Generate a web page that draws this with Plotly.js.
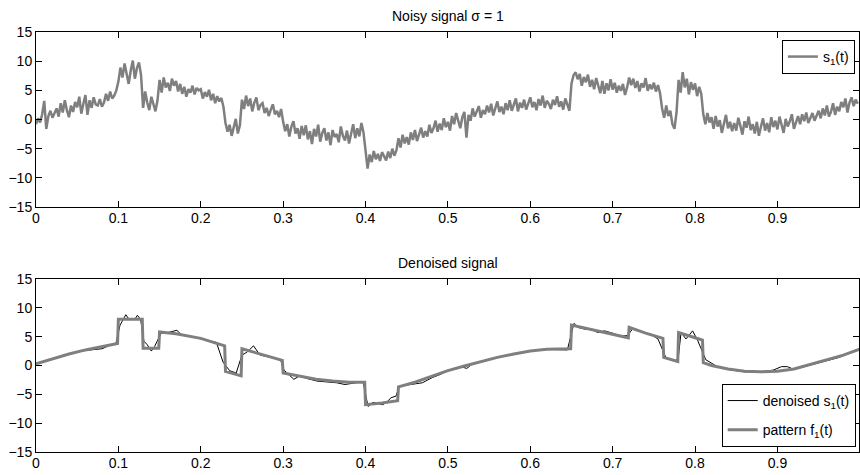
<!DOCTYPE html>
<html>
<head>
<meta charset="utf-8">
<script src="https://cdn.plot.ly/plotly-3.0.1.min.js"></script>
<style>html,body{margin:0;padding:0;background:#fff;}#chart{width:860px;height:475px;}</style>
</head>
<body>
<div id="chart"></div>
<script>
const noisyStep = 0.0025;
const noisyValues = [
-0.8,0.2,-0.5,0.9,3.2,-1.6,0.6,1.5,0.3,1.2,
1.9,0.5,2.8,1.2,3.3,1.6,0.4,2.4,1.3,3.0,
2.1,3.9,1.0,2.7,4.2,0.8,3.3,2.0,3.8,2.6,
2.4,3.5,2.2,2.9,4.4,3.2,4.8,3.6,4.1,5.0,
6.5,8.9,7.2,9.6,7.9,6.1,8.4,10.1,7.0,8.8,
9.8,7.6,2.0,4.8,2.9,1.6,3.9,2.4,1.4,3.3,
6.8,4.6,7.2,5.5,6.3,4.9,7.0,5.8,6.6,4.8,
6.1,4.4,5.6,3.9,5.2,4.6,5.8,4.3,5.4,5.0,
5.2,3.6,4.7,3.9,5.1,3.3,4.4,2.8,4.0,3.1,
3.7,2.2,-0.6,-2.1,-0.9,-2.8,-1.3,0.1,-2.4,-1.0,
3.4,1.8,4.1,2.3,3.6,1.4,2.9,3.8,1.6,2.5,
2.8,1.1,2.0,0.6,1.7,2.6,0.9,1.5,0.4,1.8,
-0.4,-2.0,-0.8,-2.9,-1.2,-0.3,-2.4,-1.5,-3.3,-1.1,
-2.7,-1.0,-3.4,-2.0,-4.2,-1.6,-2.9,-0.9,-3.8,-2.3,
-1.5,-3.6,-2.2,-4.4,-1.8,-3.0,-2.5,-3.9,-1.2,-2.8,
-3.6,-1.9,-4.1,-2.4,-0.8,-3.2,-1.5,-2.9,-0.6,-2.2,
-5.2,-8.4,-6.0,-7.3,-5.4,-6.8,-5.9,-7.1,-5.6,-6.4,
-7.0,-5.5,-6.6,-5.0,-6.2,-5.3,-3.2,-4.8,-2.6,-4.1,
-3.0,-4.3,-2.2,-3.5,-1.8,-3.7,-2.6,-1.4,-3.1,-2.0,
-2.9,-0.9,-2.3,-1.5,-0.2,-2.1,-0.7,-1.8,0.2,-1.3,
-0.4,-1.9,0.6,-0.8,1.1,-0.3,-1.5,0.4,1.3,-3.1,
0.8,-0.2,1.9,0.5,1.4,2.3,0.3,1.6,0.9,2.4,
1.2,2.7,0.7,1.9,3.1,1.3,2.2,0.9,2.8,1.6,
3.3,1.5,2.5,3.6,1.4,2.9,2.0,3.4,1.7,2.6,
3.8,2.1,3.0,1.6,3.5,2.4,4.1,2.0,3.2,2.7,
1.8,3.4,2.5,4.0,2.2,3.1,1.7,3.6,2.4,1.5,
6.2,7.6,8.1,6.9,7.8,5.8,7.3,6.4,7.7,5.6,
6.8,5.2,7.1,5.9,4.5,6.6,4.4,6.2,5.0,6.9,
5.1,6.3,4.6,5.8,4.9,6.1,4.2,5.5,7.2,5.9,
7.0,5.4,6.6,4.8,6.2,5.5,7.1,4.9,6.0,5.2,
6.3,4.8,5.9,4.5,1.9,0.3,2.4,0.6,1.5,-0.8,
-1.6,1.2,6.8,4.6,8.1,5.5,7.0,4.3,6.4,5.1,
6.2,4.0,5.6,4.4,0.9,-0.8,1.1,-0.5,0.4,-1.6,
0.6,-1.2,-0.1,-2.3,-0.7,0.8,-1.5,-0.4,-2.0,-0.6,
-1.9,0.3,-1.1,-2.6,-0.3,-1.4,0.5,-1.8,-0.8,-2.4,
-0.4,-2.8,-1.2,0.2,-1.9,-0.6,-2.2,0.4,-1.3,-0.2,
-1.7,0.5,-0.9,-2.3,0.1,-1.2,-0.3,0.9,-1.6,-0.5,
0.6,-0.8,0.9,-0.3,1.2,-0.6,0.4,1.1,-0.2,0.8,
1.5,0.2,1.9,0.7,2.4,0.5,1.3,2.8,0.8,2.2,
1.4,3.0,2.1,3.6,1.2,2.9,3.8,2.3,3.4,2.7
];
const noisyT = noisyValues.map((_, i) => +(i * noisyStep).toFixed(4));

// Denoised signal (black)
const denT = [0,0.02,0.04,0.06,0.07,0.08,0.09,0.097,0.102,0.105,0.109,0.113,0.12,0.123,0.127,0.131,0.135,0.14,0.144,0.147,0.152,0.16,0.171,0.176,0.19,0.2,0.21,0.219,0.227,0.235,0.243,0.25,0.256,0.264,0.272,0.285,0.297,0.301,0.313,0.32,0.33,0.341,0.355,0.365,0.375,0.387,0.397,0.403,0.409,0.415,0.421,0.426,0.431,0.437,0.441,0.45,0.457,0.469,0.481,0.49,0.5,0.51,0.515,0.523,0.53,0.55,0.57,0.6,0.62,0.645,0.653,0.658,0.666,0.675,0.682,0.69,0.7,0.71,0.718,0.724,0.73,0.738,0.746,0.755,0.765,0.772,0.779,0.783,0.789,0.797,0.803,0.813,0.827,0.84,0.86,0.88,0.895,0.905,0.912,0.92,0.94,0.96,0.975,0.985,0.999];
const denY = [0.3,1.2,2.0,2.6,2.7,2.9,3.5,3.8,7.0,7.9,8.8,8.0,8.0,8.7,8.0,4.2,3.6,2.5,3.3,4.2,5.6,5.7,6.1,5.4,5.0,4.7,4.3,4.0,0.6,-0.9,-1.3,1.8,2.3,3.4,1.8,1.4,0.9,-0.8,-2.4,-1.8,-2.3,-2.7,-2.8,-3.0,-3.3,-3.0,-2.8,-7.1,-6.4,-6.6,-6.8,-6.3,-5.6,-5.3,-3.6,-3.4,-3.3,-3.0,-2.1,-1.6,-0.9,-0.6,-0.2,-0.5,0.3,1.1,1.7,2.5,2.8,2.7,7.3,6.6,6.3,6.2,5.7,6.0,5.6,5.1,5.2,6.3,6.1,5.7,5.4,4.6,1.2,0.9,0.6,5.7,4.6,6.0,4.4,1.0,-0.2,-0.7,-1.1,-1.1,-0.8,-0.2,-0.2,-0.7,0.1,0.8,1.4,2.0,2.9];

// Pattern f1(t) (gray)
const patT = [0,0.02,0.04,0.06,0.08,0.099,0.1,0.129,0.13,0.149,0.15,0.17,0.2,0.229,0.23,0.249,0.25,0.27,0.299,0.3,0.32,0.34,0.36,0.38,0.399,0.4,0.42,0.439,0.44,0.46,0.48,0.5,0.52,0.54,0.56,0.58,0.6,0.62,0.649,0.65,0.68,0.7,0.719,0.72,0.74,0.761,0.762,0.779,0.78,0.8,0.809,0.81,0.82,0.84,0.86,0.88,0.9,0.92,0.94,0.96,0.98,0.999];
const patY = [0.3,1.2,2.0,2.7,3.3,3.8,8.0,8.0,3.0,3.0,5.8,5.5,4.7,3.4,-1.0,-1.8,2.9,2.1,0.9,-1.3,-1.8,-2.4,-2.7,-2.9,-2.9,-6.8,-6.5,-6.1,-3.7,-2.9,-1.9,-0.9,-0.1,0.7,1.4,2.0,2.5,2.8,2.9,7.0,6.0,5.4,4.8,6.6,5.6,4.7,1.4,0.7,5.7,4.8,4.4,0.5,0.0,-0.6,-1.0,-1.1,-1.0,-0.6,0.2,0.9,1.8,2.8];

const xTickVals = [0,0.1,0.2,0.3,0.4,0.5,0.6,0.7,0.8,0.9];
const xTickText = ['0','0.1','0.2','0.3','0.4','0.5','0.6','0.7','0.8','0.9'];
const yTickVals = [-15,-10,-5,0,5,10,15];

const FONT = 'Liberation Sans, Arial, Helvetica, sans-serif';
const gray = '#7f7f7f';

const traces = [
  {x: noisyT, y: noisyValues, type: 'scatter', mode: 'lines', name: 's<sub>1</sub>(t)',
   line: {color: gray, width: 2.5}, xaxis: 'x', yaxis: 'y', legend: 'legend'},
  {x: denT, y: denY, type: 'scatter', mode: 'lines', name: 'denoised s<sub>1</sub>(t)',
   line: {color: '#000000', width: 1}, xaxis: 'x2', yaxis: 'y2', legend: 'legend2', legendgroup: 'a'},
  {x: patT, y: patY, type: 'scatter', mode: 'lines', name: 'pattern f<sub>1</sub>(t)',
   line: {color: gray, width: 3}, xaxis: 'x2', yaxis: 'y2', legend: 'legend2', legendgroup: 'b'}
];

function xa(anchor) {
  return {range: [0, 0.999], anchor: anchor, tickvals: xTickVals, ticktext: xTickText,
    ticks: 'inside', ticklen: 6, tickcolor: '#000', showline: true, linecolor: '#000', linewidth: 1,
    mirror: 'ticks', showgrid: false, zeroline: false, ticklabelstandoff: -2,
    tickfont: {family: FONT, size: 14, color: '#000'}};
}
function ya(anchor, domain) {
  return {range: [-15, 15], anchor: anchor, domain: domain, tickvals: yTickVals,
    ticks: 'inside', ticklen: 6, tickcolor: '#000', showline: true, linecolor: '#000', linewidth: 1,
    mirror: 'ticks', showgrid: false, zeroline: false, tickfont: {family: FONT, size: 14, color: '#000'}};
}

const layout = {
  width: 860, height: 475,
  margin: {l: 36, r: 1, t: 32, b: 23},
  paper_bgcolor: '#fff', plot_bgcolor: '#fff',
  font: {family: FONT, size: 14, color: '#000'},
  xaxis: xa('y'),
  yaxis: ya('x', [0.5833, 1]),
  xaxis2: xa('y2'),
  yaxis2: ya('x2', [0, 0.412]),
  showlegend: true,
  legend: {x: 0.995, xanchor: 'right', y: 0.981, yanchor: 'top', bgcolor: '#fff',
    bordercolor: '#000', borderwidth: 1, font: {family: FONT, size: 14, color: '#000'}},
  legend2: {x: 0.996, xanchor: 'right', y: 0.162, yanchor: 'top', bgcolor: '#fff',
    bordercolor: '#000', borderwidth: 1, traceorder: 'grouped', tracegroupgap: 8,
    font: {family: FONT, size: 14, color: '#000'}},
  annotations: [
    {text: 'Noisy signal σ = 1', xref: 'paper', yref: 'paper', x: 0.5, y: 1, yanchor: 'bottom',
     yshift: 6, showarrow: false, font: {family: FONT, size: 14, color: '#000'}},
    {text: 'Denoised signal', xref: 'paper', yref: 'paper', x: 0.5, y: 0.412, yanchor: 'bottom',
     yshift: 6, showarrow: false, font: {family: FONT, size: 14, color: '#000'}}
  ]
};

Plotly.newPlot('chart', traces, layout, {displayModeBar: false, staticPlot: true});
</script>
</body>
</html>
